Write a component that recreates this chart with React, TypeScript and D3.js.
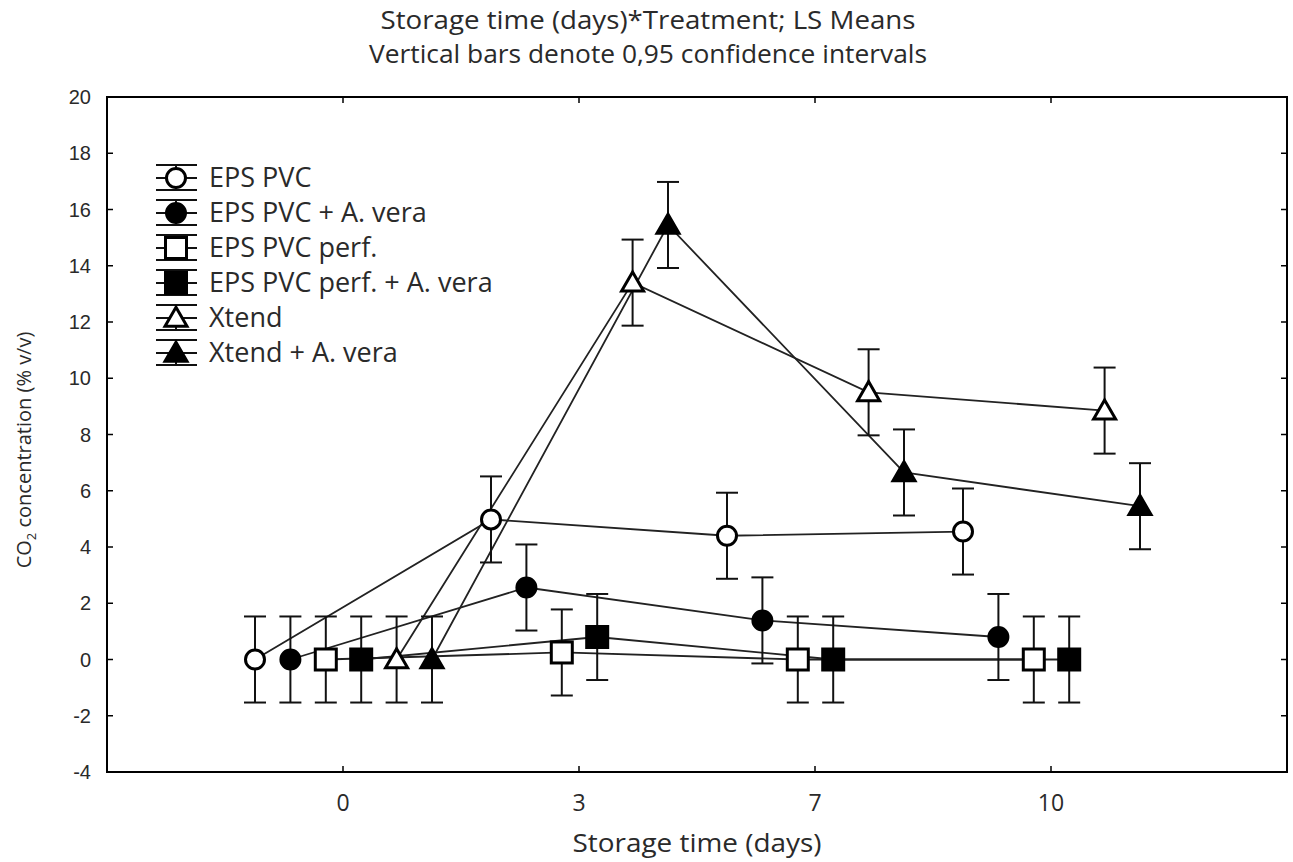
import * as d3 from 'd3';
import React from 'react';

// storage time categories (days)
const days = ['0', '3', '7', '10'];
const yTicks = [-4, -2, 0, 2, 4, 6, 8, 10, 12, 14, 16, 18, 20];

const seriesNames = [
  'EPS PVC',
  'EPS PVC + A. vera',
  'EPS PVC perf.',
  'EPS PVC perf. + A. vera',
  'Xtend',
  'Xtend + A. vera',
];
const seriesShapes = ['circle', 'circle', 'square', 'square', 'triangle', 'triangle'];
const seriesFilled = [false, true, false, true, false, true];

// LS means per series, one value per storage day
const epsPvc = [0, 4.98, 4.4, 4.55];
const epsPvcAloe = [0, 2.56, 1.39, 0.8];
const epsPvcPerf = [0, 0.25, 0, 0];
const epsPvcPerfAloe = [0, 0.8, 0, 0];
const xtend = [0, 13.4, 9.5, 8.85];
const xtendAloe = [0, 15.45, 6.65, 5.45];
// half width of the 0.95 confidence interval
const ciHalf = [1.53, 1.53, 1.53, 1.53, 1.53, 1.53];

const allSeries = [epsPvc, epsPvcAloe, epsPvcPerf, epsPvcPerfAloe, xtend, xtendAloe];

const W = 1293;
const H = 862;
const m = { left: 107, right: 1287, top: 97, bottom: 772 };

const textFont = '"Open Sans", sans-serif';
const numFont = '"Liberation Sans", Arial, sans-serif';
const ink = '#2a2a2a';

function Marker({ shape, filled, x, y }: { shape: string; filled: boolean; x: number; y: number }) {
  const fill = filled ? '#000' : '#fff';
  if (shape === 'circle') {
    return <circle cx={x} cy={y} r={9.5} fill={fill} stroke="#000" strokeWidth={3} />;
  }
  if (shape === 'square') {
    return <rect x={x - 10.5} y={y - 10.5} width={21} height={21} fill={fill} stroke="#000" strokeWidth={3} />;
  }
  const sym = d3.symbol().type(d3.symbolTriangle).size(210)();
  return <path d={sym as string} transform={`translate(${x},${y + 2})`} fill={fill} stroke="#000" strokeWidth={3} strokeLinejoin="miter" />;
}

export default function App() {
  const x = d3.scalePoint<string>().domain(days).range([m.left, m.right]).padding(1);
  const off = d3.scalePoint<number>().domain(d3.range(seriesNames.length)).range([-88, 89]);
  const y = d3.scaleLinear().domain([-4, 20]).range([m.bottom, m.top]);
  const line = d3.line<[number, number]>().x((d) => d[0]).y((d) => d[1]);

  const pts = allSeries.map((vals, si) =>
    vals.map((v, di) => [(x(days[di]) as number) + (off(si) as number), y(v)] as [number, number])
  );

  const legendY = d3.range(seriesNames.length).map((i) => 178 + i * 35);
  const plotMid = (m.left + m.right) / 2;

  return (
    <svg width={W} height={H} style={{ position: 'absolute', left: 0, top: 0, background: '#fff' }}>
      {/* titles */}
      <text x={648} y={29} textAnchor="middle" fontFamily={textFont} fontSize={25} fill={ink} textLength={535} lengthAdjust="spacingAndGlyphs">
        Storage time (days)*Treatment; LS Means
      </text>
      <text x={648} y={63} textAnchor="middle" fontFamily={textFont} fontSize={25} fill={ink} textLength={558} lengthAdjust="spacingAndGlyphs">
        Vertical bars denote 0,95 confidence intervals
      </text>

      {/* frame */}
      <rect x={m.left} y={m.top} width={m.right - m.left} height={m.bottom - m.top} fill="none" stroke="#000" strokeWidth={2} />

      {/* y ticks */}
      {yTicks.map((t) => (
        <g key={t}>
          <line x1={m.left} x2={m.left + 6} y1={y(t)} y2={y(t)} stroke="#000" strokeWidth={1.5} />
          <line x1={m.right - 6} x2={m.right} y1={y(t)} y2={y(t)} stroke="#000" strokeWidth={1.5} />
          <text x={91} y={y(t) + 7} textAnchor="end" fontFamily={numFont} fontSize={20} fill={ink}>
            {t}
          </text>
        </g>
      ))}

      {/* x ticks */}
      {days.map((d) => (
        <g key={d}>
          <line x1={x(d)} x2={x(d)} y1={m.bottom} y2={m.bottom - 6} stroke="#000" strokeWidth={1.5} />
          <line x1={x(d)} x2={x(d)} y1={m.top} y2={m.top + 6} stroke="#000" strokeWidth={1.5} />
          <text x={x(d)} y={811} textAnchor="middle" fontFamily={textFont} fontSize={23} fill={ink}>
            {d}
          </text>
        </g>
      ))}

      {/* axis titles */}
      <text x={plotMid} y={852} textAnchor="middle" fontFamily={textFont} fontSize={25} fill={ink} textLength={249} lengthAdjust="spacingAndGlyphs">
        Storage time (days)
      </text>
      <text transform="translate(31,450) rotate(-90)" textAnchor="middle" fontFamily={textFont} fontSize={20} fill={ink}>
        CO<tspan fontSize={13} dy={5}>2</tspan>
        <tspan dy={-5}> concentration (% v/v)</tspan>
      </text>

      {/* series lines */}
      {pts.map((p, si) => (
        <path key={'l' + si} d={line(p) as string} fill="none" stroke="#222" strokeWidth={1.8} />
      ))}

      {/* error bars */}
      {allSeries.map((vals, si) =>
        vals.map((v, di) => {
          const cx = pts[si][di][0];
          const y1 = y(v + ciHalf[si]);
          const y2 = y(v - ciHalf[si]);
          return (
            <g key={`e${si}-${di}`} stroke="#111" strokeWidth={2}>
              <line x1={cx} x2={cx} y1={y1} y2={y2} />
              <line x1={cx - 11} x2={cx + 11} y1={y1} y2={y1} />
              <line x1={cx - 11} x2={cx + 11} y1={y2} y2={y2} />
            </g>
          );
        })
      )}

      {/* markers */}
      {pts.map((p, si) =>
        p.map((pt, di) => (
          <Marker key={`m${si}-${di}`} shape={seriesShapes[si]} filled={seriesFilled[si]} x={pt[0]} y={pt[1]} />
        ))
      )}

      {/* legend */}
      {seriesNames.map((name, si) => {
        const ly = legendY[si];
        return (
          <g key={'lg' + si}>
            <g stroke="#111" strokeWidth={2}>
              <line x1={156} x2={197} y1={ly} y2={ly} />
              <line x1={156} x2={197} y1={ly - 13} y2={ly - 13} />
              <line x1={156} x2={197} y1={ly + 12} y2={ly + 12} />
              <line x1={176} x2={176} y1={ly - 13} y2={ly + 12} />
            </g>
            <Marker shape={seriesShapes[si]} filled={seriesFilled[si]} x={176} y={ly} />
            <text x={209} y={ly + 9} fontFamily={textFont} fontSize={27} fill={ink}>
              {name}
            </text>
          </g>
        );
      })}
    </svg>
  );
}
